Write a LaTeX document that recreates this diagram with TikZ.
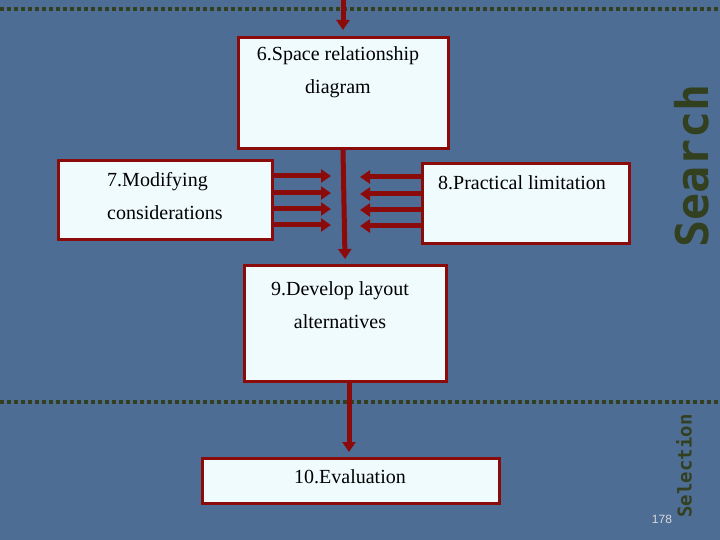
\documentclass[tikz,border=0pt]{standalone}
\usepackage{fontspec}
\setmainfont{Liberation Serif}
\newfontfamily\labfont{DejaVu Sans Mono}
\newfontfamily\numfont{Liberation Sans}
\usetikzlibrary{arrows.meta}
\definecolor{bg}{HTML}{4E6D95}
\definecolor{bred}{HTML}{8B0A0A}
\definecolor{olive}{HTML}{33401F}
\definecolor{boxfill}{HTML}{F0FBFE}
\tikzset{
  stepbox/.style={draw=bred,line width=3pt,fill=boxfill,anchor=north west,inner sep=0pt},
  txt/.style={font=\fontsize{20}{33}\selectfont,align=center},
  arr/.style={bred,line width=5pt,-{Triangle[length=10pt,width=13pt]}},
  dotline/.style={olive,line width=4pt,dash pattern=on 4pt off 3pt}
}
\begin{document}
\begin{tikzpicture}[x=1pt,y=-1pt]
\fill[bg] (0,0) rectangle (720,540);
\useasboundingbox (0,0) rectangle (720,540);
\draw[dotline] (0,9) -- (720,9);
\draw[dotline] (0,402) -- (720,402);
\node[stepbox,minimum width=210pt,minimum height=111pt] (b6) at (237,36) {};
\node[txt] (t6) at (338,72) {6.Space relationship\\diagram};
\node[stepbox,minimum width=214pt,minimum height=79pt] (b7) at (57,159) {};
\node[txt,align=left] (t7) at (165,196) {7.Modifying\\considerations};
\node[stepbox,minimum width=207pt,minimum height=80pt] (b8) at (421,162) {};
\node[txt] (t8) at (522,183) {8.Practical limitation};
\node[stepbox,minimum width=202pt,minimum height=116pt] (b9) at (243,264) {};
\node[txt] (t9) at (340,305) {9.Develop layout\\alternatives};
\node[stepbox,minimum width=297pt,minimum height=45pt] (b10) at (201,457) {};
\node[txt] (t10) at (350,477) {10.Evaluation};
\coordinate (top) at (343,0);
\coordinate (c6) at (343,30);
\draw[arr] (top) -- (c6);
\coordinate (vs) at (343,150);
\coordinate (ve) at (345,259);
\draw[arr] (vs) -- (ve);
\foreach \y [count=\i] in {176,193,209,225}{
  \coordinate (l\i) at (271,\y); \coordinate (le\i) at (331,\y);
  \draw[arr] (l\i) -- (le\i);
  \coordinate (r\i) at (421,\y+1); \coordinate (re\i) at (360,\y+1);
  \draw[arr] (r\i) -- (re\i);
}
\coordinate (s9) at (349,382);
\coordinate (e10) at (349,452);
\draw[arr] (s9) -- (e10);
\node[rotate=90,text=olive,font=\labfont\bfseries\fontsize{45}{45}\selectfont,inner sep=0pt] (search) at (692,166) {Search};
\node[rotate=90,text=olive,font=\labfont\bfseries\fontsize{19}{19}\selectfont] (sel) at (684,466) {Selection};
\node[font=\numfont\fontsize{12}{12}\selectfont,text=white!85!black] (pg) at (662,519) {178};
\end{tikzpicture}
\end{document}
